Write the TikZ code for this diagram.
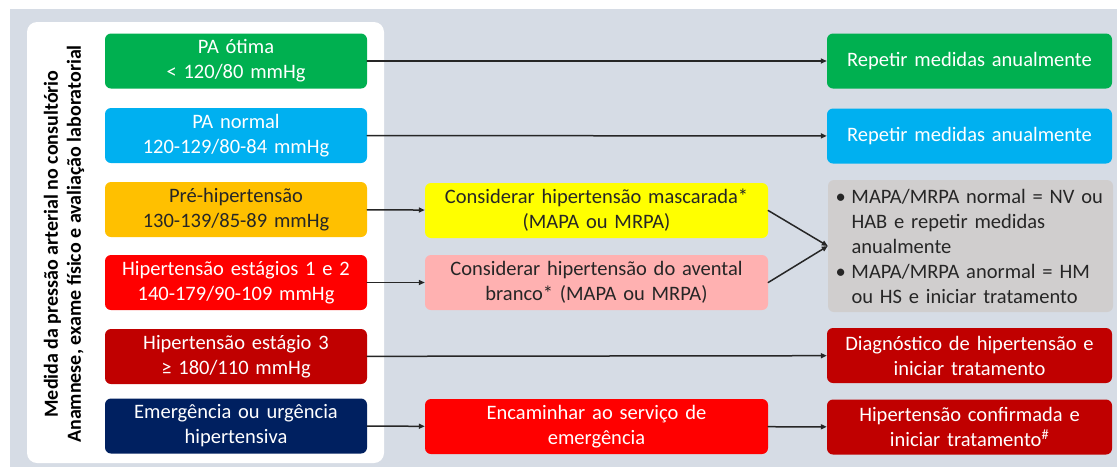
\documentclass[tikz,border=0pt]{standalone}
\usepackage{fontspec}
\setmainfont{Carlito}
\usepackage{tikz}
\usetikzlibrary{arrows.meta,positioning}
\definecolor{bgblue}{HTML}{D6DCE5}
\definecolor{otgreen}{HTML}{00B050}
\definecolor{nmblue}{HTML}{00B0F0}
\definecolor{preorange}{HTML}{FFC000}
\definecolor{hred}{HTML}{FF0000}
\definecolor{hdark}{HTML}{C00000}
\definecolor{emnavy}{HTML}{002060}
\definecolor{mskyellow}{HTML}{FFFF00}
\definecolor{avpink}{HTML}{FFB1B1}
\definecolor{resgray}{HTML}{D0CECE}
\definecolor{txtdark}{HTML}{262626}
\newcommand{\bul}{\hspace*{5pt}\makebox[16pt][l]{\textbullet}}
\newcommand{\ind}{\hspace*{21pt}}
\tikzset{
  box/.style={rounded corners=6pt, inner sep=2pt, align=center,
    minimum height=55pt, font=\fontsize{20.5}{25}\selectfont},
  leftbox/.style={box, minimum width=262pt, text width=255pt},
  midbox/.style={box, minimum width=343pt, text width=335pt},
  rightbox/.style={box, minimum width=285pt, text width=278pt},
  wtxt/.style={text=white},
  dtxt/.style={text=txtdark},
  conn/.style={->, line width=1.5pt, draw=txtdark}
}
\begin{document}
\begin{tikzpicture}[x=1pt, y=-1pt, line cap=round, line join=round,
    >={Triangle[length=6pt,width=5pt]}]
  \useasboundingbox (0,0) rectangle (1117,467);
  \fill [bgblue] (10,9) rectangle (1117,467);
  \fill [white, rounded corners=10pt] (27,22) rectangle (384,463);
  % left column text
  \node (medida) [rotate=90, align=center, text=black,
    font=\bfseries\fontsize{20}{23}\selectfont] at (64,244)
    {Medida da pressão arterial no consultório\\
     Anamnese, exame físico e avaliação laboratorial};
  % classification boxes
  \node (otima) [leftbox, fill=otgreen, wtxt] at (236,61) {PA ótima\\< 120/80 mmHg};
  \node (normal) [leftbox, fill=nmblue, wtxt] at (236,135.5) {PA normal\\120-129/80-84 mmHg};
  \node (pre) [leftbox, fill=preorange, dtxt] at (236,209.5) {Pré-hipertensão\\130-139/85-89 mmHg};
  \node (est12) [leftbox, fill=hred, wtxt] at (236,282.5) {Hipertensão estágios 1 e 2\\140-179/90-109 mmHg};
  \node (est3) [leftbox, fill=hdark, wtxt] at (236,356.5) {Hipertensão estágio 3\\≥ 180/110 mmHg};
  \node (emerg) [leftbox, fill=emnavy, wtxt] at (236,426) {Emergência ou urgência\\hipertensiva};
  % middle column
  \node (mascarada) [midbox, fill=mskyellow, dtxt] at (596.5,210.5)
    {Considerar hipertensão mascarada*\\(MAPA ou MRPA)};
  \node (avental) [midbox, fill=avpink, dtxt] at (596.5,282.5)
    {Considerar hipertensão do avental\\branco* (MAPA ou MRPA)};
  \node (servico) [midbox, fill=hred, wtxt] at (596.5,426.5)
    {Encaminhar ao serviço de\\emergência};
  % right column
  \node (rep1) [rightbox, fill=otgreen, wtxt] at (969.5,61) {Repetir medidas anualmente};
  \node (rep2) [rightbox, fill=nmblue, wtxt] at (969.5,136) {Repetir medidas anualmente};
  \node (mapa) [rightbox, fill=resgray, dtxt, minimum height=132pt, align=left,
    text width=280pt] at (970.5,246)
    {\bul MAPA/MRPA normal = NV ou\\
     \ind HAB e repetir medidas\\
     \ind anualmente\\
     \bul MAPA/MRPA anormal = HM\\
     \ind ou HS e iniciar tratamento};
  \node (diag) [rightbox, fill=hdark, wtxt] at (969.5,355.5)
    {Diagnóstico de hipertensão e\\iniciar tratamento};
  \node (confirm) [rightbox, fill=hdark, wtxt] at (969.5,427)
    {Hipertensão confirmada e\\iniciar tratamento\textsuperscript{\#}};
  % connectors
  \draw [conn] (otima) -- (rep1);
  \draw [conn] (normal) -- (rep2);
  \draw [conn] (pre) -- (mascarada);
  \draw [conn] (est12) -- (avental);
  \draw [conn] (mascarada.east) -- (mapa.west);
  \draw [conn] (avental.east) -- (mapa.west);
  \draw [conn] (est3) -- (diag);
  \draw [conn] (emerg) -- (servico);
  \draw [conn] (servico) -- (confirm);
\end{tikzpicture}
\end{document}
